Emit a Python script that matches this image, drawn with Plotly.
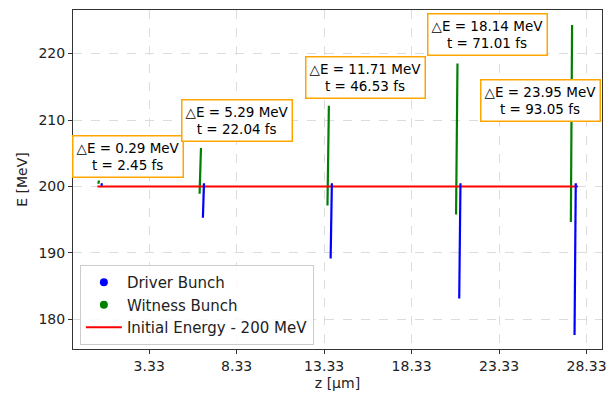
import plotly.graph_objects as go

# ---- data ----
driver_z_head = [0.63, 6.46, 13.77, 21.12, 27.71]
driver_z_tail = [0.60, 6.40, 13.70, 21.05, 27.64]
driver_E_top = [200.5, 200.5, 200.5, 200.5, 200.5]
driver_E_bottom = [200.1, 195.3, 189.15, 183.15, 177.65]

witness_z_head = [0.46, 6.29, 13.60, 20.95, 27.50]
witness_z_tail = [0.42, 6.21, 13.52, 20.87, 27.43]
witness_E_top = [200.9, 205.8, 212.15, 218.5, 224.3]
witness_E_bottom = [200.4, 198.9, 197.15, 195.8, 194.65]

initial_z = [0.37, 27.84]
initial_E = [200.0, 200.0]

delta_E = [0.29, 5.29, 11.71, 18.14, 23.95]
t_fs = [2.45, 22.04, 46.53, 71.01, 93.05]
label_z = [2.12, 8.35, 15.68, 22.65, 25.72]
label_E = [204.5, 209.97, 216.4, 222.8, 212.9]

x_tickvals = [3.33, 8.33, 13.33, 18.33, 23.33, 28.33]
x_ticktext = ["3.33", "8.33", "13.33", "18.33", "23.33", "28.33"]
y_tickvals = [180, 190, 200, 210, 220]

FONT = "DejaVu Sans"


def segs(z_top, z_bot, e_top, e_bot):
    xs, ys = [], []
    for a, b, c, d in zip(z_top, z_bot, e_top, e_bot):
        xs += [a, b, None]
        ys += [c, d, None]
    return xs, ys


fig = go.Figure()

wx, wy = segs(witness_z_head, witness_z_tail, witness_E_top, witness_E_bottom)
dx, dy = segs(driver_z_head, driver_z_tail, driver_E_top, driver_E_bottom)

fig.add_trace(go.Scatter(x=wx, y=wy, mode="lines", line=dict(color="green", width=2.2),
                         showlegend=False, hoverinfo="skip"))
fig.add_trace(go.Scatter(x=initial_z, y=initial_E, mode="lines",
                         line=dict(color="red", width=2), showlegend=False))
fig.add_trace(go.Scatter(x=dx, y=dy, mode="lines", line=dict(color="blue", width=2.2),
                         showlegend=False, hoverinfo="skip"))

# legend entries
fig.add_trace(go.Scatter(x=[None], y=[None], mode="markers", name="Driver Bunch",
                         marker=dict(color="blue", size=8)))
fig.add_trace(go.Scatter(x=[None], y=[None], mode="markers", name="Witness Bunch",
                         marker=dict(color="green", size=8)))
fig.add_trace(go.Scatter(x=[None], y=[None], mode="lines", name="Initial Energy - 200 MeV",
                         line=dict(color="red", width=2)))

for z, e, de, t in zip(label_z, label_E, delta_E, t_fs):
    fig.add_annotation(x=z, y=e, xref="x", yref="y", showarrow=False,
                       text=f"△E = {de:.2f} MeV<br>t = {t:.2f} fs",
                       align="center", font=dict(family=FONT, size=13.5, color="black"),
                       bgcolor="white", bordercolor="orange", borderwidth=1.5, borderpad=3)

axis_common = dict(showline=True, linecolor="#333", linewidth=1, mirror=True,
                   ticks="outside", ticklen=4, tickcolor="#333",
                   showgrid=True, gridcolor="#dcdcdc", griddash="dash", gridwidth=1,
                   zeroline=False, tickfont=dict(family=FONT, size=14, color="#222"),
                   title_font=dict(family=FONT, size=14, color="#222"))

fig.update_xaxes(range=[-1.025, 29.21], tickvals=x_tickvals, ticktext=x_ticktext,
                 title_text="z [µm]", title_standoff=5, **axis_common)
fig.update_yaxes(range=[175.55, 226.55], tickvals=y_tickvals,
                 title_text="E [MeV]", title_standoff=7, **axis_common)

fig.update_layout(
    width=616, height=401,
    margin=dict(l=73, r=9, t=9, b=52),
    plot_bgcolor="white", paper_bgcolor="white",
    font=dict(family=FONT, size=14, color="#222"),
    legend=dict(x=0.013, y=0.012, xanchor="left", yanchor="bottom",
                bgcolor="rgba(255,255,255,0.85)", bordercolor="#cccccc", borderwidth=1,
                font=dict(family=FONT, size=15, color="#222"), itemwidth=36),
)

fig.write_html("out.html")
